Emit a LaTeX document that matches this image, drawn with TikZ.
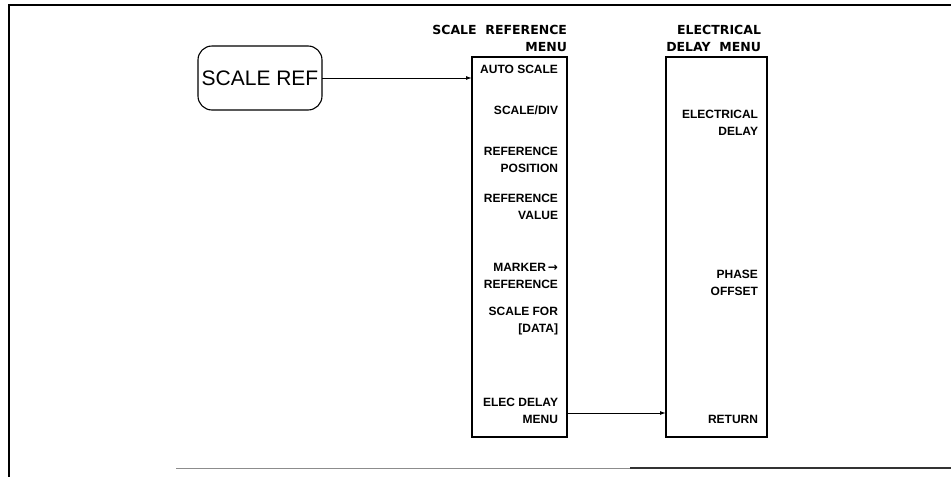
\documentclass[tikz,border=0pt]{standalone}
\usepackage{fontspec}
\setmainfont{Liberation Sans}
\newfontfamily\titlefont{DejaVu Sans}
\usetikzlibrary{arrows.meta}
\begin{document}
\begin{tikzpicture}[x=1pt,y=-1pt,
  every node/.style={inner sep=0pt,outer sep=0pt},
  menubox/.style={draw,line width=1.1pt,minimum width=95pt,minimum height=380pt},
  item/.style={anchor=east,align=right,font=\fontsize{12}{17}\selectfont\bfseries},
  title/.style={anchor=east,align=right,font=\titlefont\fontsize{12.5}{17}\selectfont\bfseries},
  arr/.style={line width=1pt,-{Latex[length=6pt,width=4pt]}}]
\useasboundingbox (0,0) rectangle (951,477);
% frame
\draw[line width=1.3pt] (951,5) -- (9,5) -- (9,477);
\draw[line width=1pt,black!45] (176,468) -- (630,468);
\draw[line width=1.2pt,black!80] (630,468) -- (951,468);
% soft key
\node[draw,line width=1.1pt,rounded corners=14pt,minimum width=124pt,minimum height=64pt,
  font=\fontsize{21}{21}\selectfont] (sref) at (260,78) {SCALE REF};
% menus
\node[menubox,minimum width=95pt] (m1) at (519.5,247) {};
\node[menubox,minimum width=101pt] (m2) at (716.5,247) {};
\node[title] (t1) at (567,38.5) {SCALE\ \ REFERENCE\\MENU};
\node[title] (t2) at (761,38.5) {ELECTRICAL\\DELAY\ \ MENU};
% menu 1 items
\node[item] (i1) at (558,69) {AUTO SCALE};
\node[item] (i2) at (558,110) {SCALE/DIV};
\node[item] (i3) at (558,159.5) {REFERENCE\\POSITION};
\node[item] (i4) at (558,206.5) {REFERENCE\\VALUE};
\node[item] (i5) at (558,276) {MARKER\,{\titlefont →}\\REFERENCE};
\node[item] (i6) at (558,321) {SCALE FOR\\{[}DATA{]}};
\node[item] (i7) at (558,410.5) {ELEC DELAY\\MENU};
% menu 2 items
\node[item] (j1) at (758,122.5) {ELECTRICAL\\DELAY};
\node[item] (j2) at (758,282.5) {PHASE\\OFFSET};
\node[item] (j3) at (758,419) {RETURN};
% connectors
\draw[arr] (sref.east) -- (sref.east -| m1.west);
\coordinate (c2) at (567,413);
\draw[arr] (c2) -- (c2 -| m2.west);
\end{tikzpicture}
\end{document}
